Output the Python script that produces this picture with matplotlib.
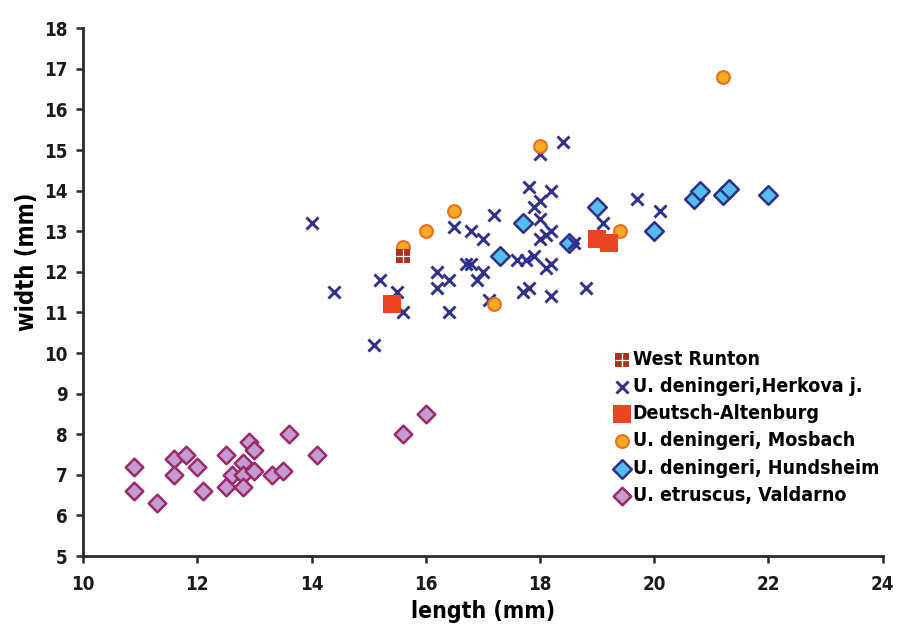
import matplotlib
matplotlib.use("Agg")
import matplotlib.pyplot as plt

plt.rcParams['font.family'] = ['DejaVu Sans']
plt.rcParams['font.stretch'] = 'condensed'
plt.rcParams['font.weight'] = 'bold'

# West Runton
wr_len = [15.6]
wr_wid = [12.4]

# U. deningeri, Herkova j.
hk_len = [14.0, 14.4, 15.1, 15.2, 15.5, 15.6, 16.2, 16.4, 16.2, 16.4,
          16.5, 16.8, 17.0, 16.7, 16.8, 17.0, 16.9, 17.1, 17.2, 17.6,
          17.75, 17.9, 17.7, 17.8, 18.2, 18.8, 17.8, 18.2, 18.0, 17.9,
          18.0, 18.2, 18.0, 18.1, 18.2, 18.1, 18.0, 18.4, 18.6, 19.1,
          19.7, 20.1]
hk_wid = [13.2, 11.5, 10.2, 11.8, 11.5, 11.0, 12.0, 11.8, 11.6, 11.0,
          13.1, 13.0, 12.8, 12.2, 12.2, 12.0, 11.8, 11.3, 13.4, 12.3,
          12.3, 12.4, 11.5, 11.6, 11.4, 11.6, 14.1, 14.0, 13.75, 13.6,
          13.3, 13.0, 12.8, 12.9, 12.2, 12.1, 14.9, 15.2, 12.7, 13.2,
          13.8, 13.5]

# Deutsch-Altenburg
da_len = [15.4, 19.0, 19.2]
da_wid = [11.2, 12.8, 12.7]

# U. deningeri, Mosbach
mo_len = [15.6, 16.0, 16.5, 17.2, 18.0, 19.4, 21.2]
mo_wid = [12.6, 13.0, 13.5, 11.2, 15.1, 13.0, 16.8]

# U. deningeri, Hundsheim
hu_len = [17.3, 17.7, 18.5, 19.0, 20.0, 20.7, 20.8, 21.2, 21.3, 22.0]
hu_wid = [12.4, 13.2, 12.7, 13.6, 13.0, 13.8, 14.0, 13.9, 14.05, 13.9]

# U. etruscus, Valdarno
va_len = [10.9, 10.9, 11.3, 11.6, 11.8, 11.6, 12.0, 12.1, 12.5, 12.5,
          12.6, 12.8, 12.8, 12.8, 12.9, 13.0, 13.0, 13.3, 13.5, 13.6,
          14.1, 15.6, 16.0]
va_wid = [7.2, 6.6, 6.3, 7.4, 7.5, 7.0, 7.2, 6.6, 7.5, 6.7,
          7.0, 7.3, 7.0, 6.7, 7.8, 7.6, 7.1, 7.0, 7.1, 8.0,
          7.5, 8.0, 8.5]

fig = plt.figure(figsize=(8.98, 6.28), dpi=100)
ax = fig.add_axes([0.0925, 0.1146, 0.8905, 0.8404])

# draw order: valdarno, hundsheim, herkova, mosbach, deutsch, west runton
va = ax.scatter(va_len, va_wid, marker='D', s=80, facecolor='#c49bd3',
                edgecolor='#9a2b68', linewidth=1.8, zorder=2)
hu = ax.scatter(hu_len, hu_wid, marker='D', s=90, facecolor='#56bdea',
                edgecolor='#2b2f8c', linewidth=1.8, zorder=2)
hk = ax.scatter(hk_len, hk_wid, marker='x', s=75, color='#32308f',
                linewidth=2.1, zorder=3)
mo = ax.scatter(mo_len, mo_wid, marker='o', s=85, facecolor='#f8aa22',
                edgecolor='#e9701f', linewidth=1.5, zorder=4)
da = ax.scatter(da_len, da_wid, marker='s', s=170, color='#ea4420',
                linewidth=0, zorder=4)
wr = ax.scatter(wr_len, wr_wid, marker='s', s=90, color='#a8321c',
                linewidth=0, zorder=5)
wr_plus = ax.scatter(wr_len, wr_wid, marker='+', s=90, color='white',
                     linewidth=0.9, zorder=6)

ax.set_xlim(10, 24)
ax.set_ylim(5, 18)
ax.set_xticks(range(10, 25, 2))
ax.set_yticks(range(5, 19))
for s in ['top', 'right']:
    ax.spines[s].set_visible(False)
for s in ['left', 'bottom']:
    ax.spines[s].set_linewidth(2)
    ax.spines[s].set_color('#2a2a2a')
ax.tick_params(direction='out', length=5, width=1.8, color='#2a2a2a',
               labelsize=13.5, labelcolor='#1a1a1a', pad=6)
ax.tick_params(axis='x', pad=9)

ax.set_xlabel('length (mm)', fontsize=16.5, fontweight='bold', labelpad=4)
ax.set_ylabel('width (mm)', fontsize=17, fontweight='bold')
ax.yaxis.set_label_coords(-0.055, 0.557)

leg = ax.legend([(wr, wr_plus), hk, da, mo, hu, va],
                ['West Runton', 'U. deningeri,Herkova j.', 'Deutsch-Altenburg',
                 'U. deningeri, Mosbach', 'U. deningeri, Hundsheim',
                 'U. etruscus, Valdarno'],
                loc='lower right', bbox_to_anchor=(1.01, 0.075), frameon=False,
                fontsize=14, handletextpad=0.0, handlelength=1.1,
                labelspacing=0.42, borderaxespad=0.2)
for t in leg.get_texts():
    t.set_fontweight('bold')

fig.savefig('out.png', dpi=100)
